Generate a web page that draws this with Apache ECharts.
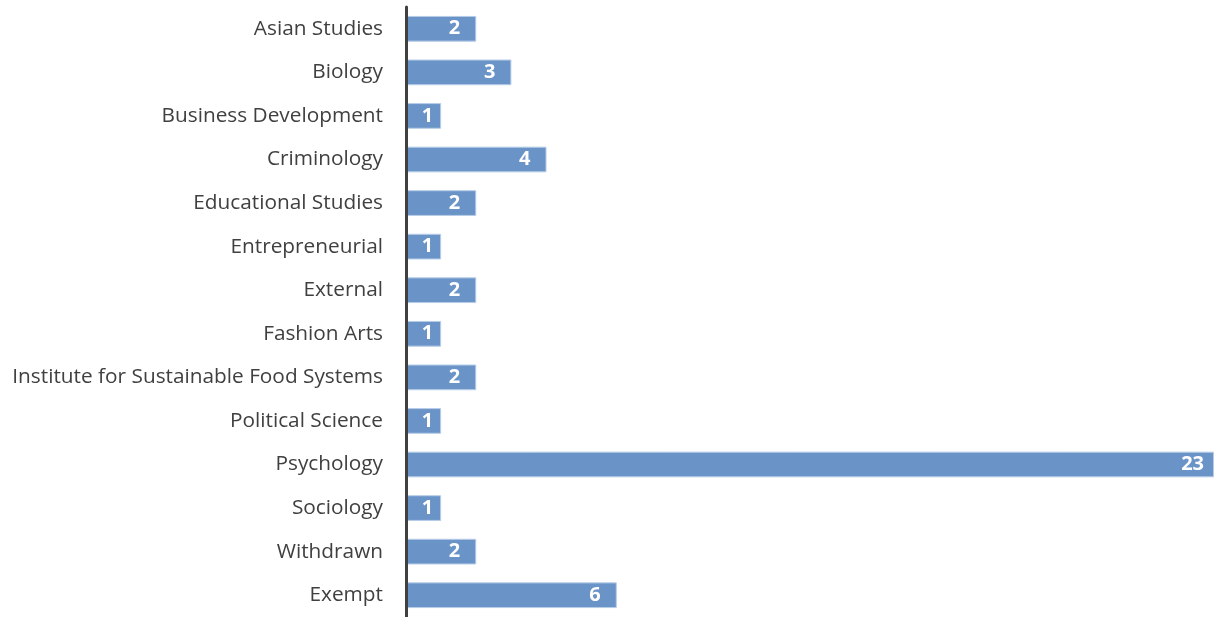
<!DOCTYPE html>
<html><head><meta charset="utf-8">
<script src="https://cdn.jsdelivr.net/npm/echarts@6/dist/echarts.min.js"></script>
<style>html,body{margin:0;padding:0;background:#fff}#c{width:1214px;height:617px}</style>
</head><body><div id="c"></div>
<script>
const categories = ["Asian Studies","Biology","Business Development","Criminology","Educational Studies","Entrepreneurial","External","Fashion Arts","Institute for Sustainable Food Systems","Political Science","Psychology","Sociology","Withdrawn","Exempt"];
const values = [2,3,1,4,2,1,2,1,2,1,23,1,2,6];

// label inset mimics the source: labels centred ~22px in from the bar end, short bars nudged
const barData = values.map(v => ({value:v, label:{distance: v <= 1 ? 8 : (String(v).length > 1 ? 10 : 16)}}));

const chart = echarts.init(document.getElementById('c'));
chart.setOption({
  animation:false,
  grid:{left:406,right:0,top:7,bottom:-3,containLabel:false},
  xAxis:{type:'value',min:0,max:23,show:false},
  yAxis:{type:'category',data:categories,inverse:true,z:5,
    axisLine:{show:true,lineStyle:{color:'#404040',width:3}},
    axisTick:{show:false},
    axisLabel:{color:'#404040',fontFamily:'Open Sans',fontSize:20.8,margin:23,padding:[2,0,0,0]}},
  series:[{type:'bar',data:barData,barCategoryGap:'41%',
    itemStyle:{color:'#6a94c7',borderColor:'#b7cde8',borderWidth:1},
    label:{show:true,position:'insideRight',color:'#fff',fontWeight:'bold',fontFamily:'Open Sans',fontSize:20,padding:[3,0,0,0]}}]
});
</script></body></html>
